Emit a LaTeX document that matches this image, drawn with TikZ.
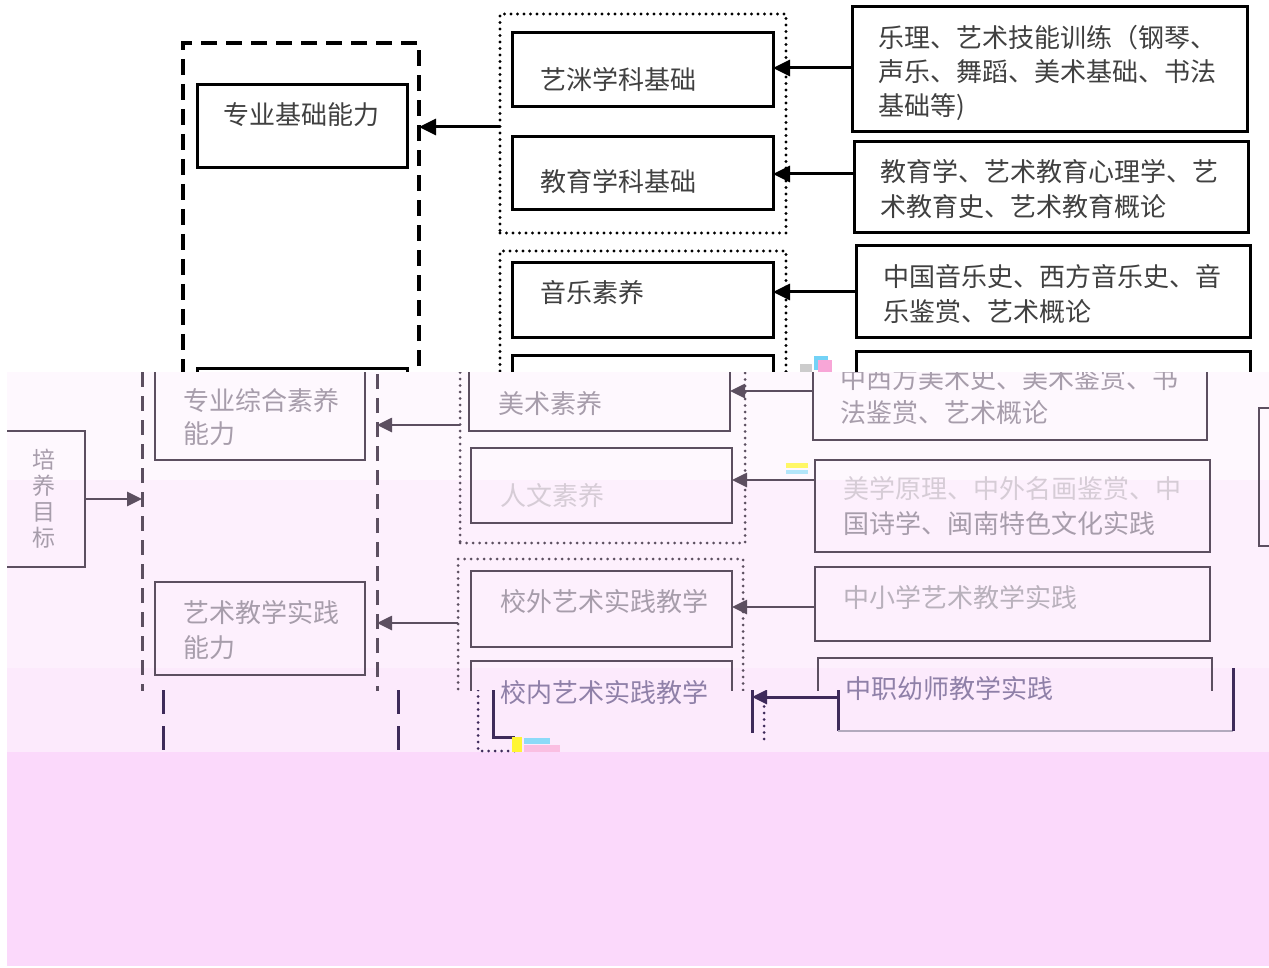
\documentclass[tikz,border=0pt]{standalone}
\usepackage{fontspec}
\newfontfamily\cjk{Noto Sans CJK SC}
\usetikzlibrary{arrows.meta,fit}
\definecolor{topink}{HTML}{404040}
\definecolor{midline}{HTML}{5C4F60}
\definecolor{midtext}{HTML}{A79DAB}
\definecolor{faint}{HTML}{D6CCD6}
\definecolor{deep}{HTML}{3E2A5A}
\definecolor{deeptext}{HTML}{8F80A8}
\definecolor{bandA}{HTML}{FEF8FE}
\definecolor{bandB}{HTML}{FDF0FD}
\definecolor{bandC}{HTML}{FCEAFC}
\definecolor{pinkbase}{HTML}{FBD9FB}
\tikzset{
  frame/.style={inner sep=0pt, outer sep=0pt},
  topbox/.style={frame, draw=black, line width=3pt},
  topdash/.style={frame, draw=black, line width=3.2pt, dash pattern=on 16pt off 9pt},
  topdot/.style={frame, draw=black, line width=3.4pt, dash pattern=on 0pt off 6.5pt, line cap=round},
  toparr/.style={draw=black, line width=3pt, -{Triangle[length=17pt,width=16pt]}},
  midbox/.style={frame, draw=midline, line width=2.6pt},
  middash/.style={draw=midline, line width=3pt, dash pattern=on 15pt off 9pt},
  middot/.style={frame, draw=midline, line width=3pt, dash pattern=on 0pt off 6.5pt, line cap=round},
  midarr/.style={draw=midline, line width=2.6pt, -{Triangle[length=15pt,width=14pt]}},
  deeparr/.style={draw=deep, line width=3pt, -{Triangle[length=15pt,width=14pt]}},
  tt/.style={anchor=base west, inner sep=0pt, font=\cjk\fontsize{26}{26}\selectfont},
  toptxt/.style={tt, text=topink},
  midtxt/.style={tt, text=midtext},
}
\begin{document}
\begin{tikzpicture}[x=1pt,y=-1pt]
\useasboundingbox (0,0) rectangle (1269,968);
\fill[white] (0,0) rectangle (1269,968);

% ---------------- top band ----------------
\begin{scope}
\clip (0,0) rectangle (1269,372);
\node[topdash, fit={(183,43) (419,430)}] (L1) {};
\node[topbox, fit={(197,85) (407,168)}] (zyjc) {};
\node[topbox, fit={(197,368) (407,460)}] (zyzh) {};
\node[topdot, fit={(500,14) (786,233)}] (G1) {};
\node[topbox, fit={(512,33) (773,107)}] (ys) {};
\node[topbox, fit={(512,137) (773,210)}] (jy) {};
\node[topdot, fit={(500,251) (786,430)}] (G2) {};
\node[topbox, fit={(512,263) (773,337)}] (yy) {};
\node[topbox, fit={(512,355) (773,430)}] (ms) {};
\node[topbox, fit={(852,7) (1247,132)}] (R1) {};
\node[topbox, fit={(854,142) (1248,233)}] (R2) {};
\node[topbox, fit={(856,246) (1250,337)}] (R3) {};
\node[topbox, fit={(856,351) (1250,440)}] (R4) {};

\draw[toparr] (G1.west |- 0,127) -- (L1.east |- 0,127);
\draw[toparr] (R1.west |- 0,68) -- (ys.east |- 0,68);
\draw[toparr] (R2.west |- 0,174) -- (jy.east |- 0,174);
\draw[toparr] (R3.west |- 0,292) -- (yy.east |- 0,292);

\node[toptxt] (t1) at (223,125) {专业基础能力};
\node[toptxt] (t2) at (540,90) {艺洣学科基础};
\node[toptxt] (t3) at (540,192) {教育学科基础};
\node[toptxt] (t4) at (540,303) {音乐素养};
\node[toptxt] (r1a) at (878,48) {乐理、艺术技能训练（钢琴、};
\node[toptxt] (r1b) at (878,82) {声乐、舞蹈、美术基础、书法};
\node[toptxt] (r1c) at (878,116) {基础等)};
\node[toptxt] (r2a) at (880,182) {教育学、艺术教育心理学、艺};
\node[toptxt] (r2b) at (880,217) {术教育史、艺术教育概论};
\node[toptxt] (r3a) at (883,287) {中国音乐史、西方音乐史、音};
\node[toptxt] (r3b) at (883,321) {乐鉴赏、艺术概论};
\end{scope}

% ---------------- middle band backgrounds ----------------
\fill[bandA] (7,372) rectangle (1269,480);
\fill[bandB] (7,480) rectangle (1269,668);
\fill[bandC] (7,668) rectangle (1269,752);
\fill[pinkbase] (7,752) rectangle (1269,966);

% ---------------- middle band, main fragment ----------------
\begin{scope}
\clip (7,372) rectangle (1269,690);
\node[midbox, fit={(-30,431) (85,567)}] (py) {};
\node[middash, frame, fit={(142,330) (377,730)}] (L2) {};
\node[midbox, fit={(155,330) (365,460)}] (s1) {};
\node[midbox, fit={(155,582) (365,675)}] (s2) {};
\node[middot, fit={(460,330) (745,543)}] (G3) {};
\node[midbox, fit={(469,330) (730,431)}] (msm) {};
\node[midbox, fit={(471,448) (732,523)}] (rw) {};
\node[middot, fit={(458,559) (743,730)}] (G4) {};
\node[midbox, fit={(471,571) (732,647)}] (xw) {};
\node[midbox, fit={(471,661) (732,730)}] (xn) {};
\node[midbox, fit={(813,330) (1207,440)}] (M1) {};
\node[midbox, fit={(815,460) (1210,552)}] (M2) {};
\node[midbox, fit={(815,567) (1210,641)}] (M3) {};
\node[midbox, fit={(818,658) (1212,730)}] (M4) {};
\node[midbox, fit={(1259,408) (1300,546)}] (RR) {};

\draw[midarr] (py.east |- 0,499) -- (L2.west |- 0,499);
\draw[midarr] (G3.west |- 0,425) -- (L2.east |- 0,425);
\draw[midarr] (G4.west |- 0,623) -- (L2.east |- 0,623);
\draw[midarr] (M1.west |- 0,391) -- (msm.east |- 0,391);
\draw[midarr] (M2.west |- 0,480) -- (rw.east |- 0,480);
\draw[midarr] (M3.west |- 0,607) -- (xw.east |- 0,607);

\node[midtxt] (s1a) at (183,410) {专业综合素养};
\node[midtxt] (s1b) at (183,443) {能力};
\node[midtxt] (s2a) at (183,622) {艺术教学实践};
\node[midtxt] (s2b) at (183,657) {能力};
\node[midtxt] (g3a) at (498,413) {美术素养};
\node[tt, text=faint] (g3b) at (500,505) {人文素养};
\node[midtxt] (g4a) at (500,611) {校外艺术实践教学};
\node[midtxt] (m1a) at (840,388) {中西方美术史、美术鉴赏、书};
\node[midtxt] (m1b) at (840,422) {法鉴赏、艺术概论};
\node[tt, text=faint] (m2a) at (843,498) {美学原理、中外名画鉴赏、中};
\node[midtxt] (m2b) at (843,533) {国诗学、闽南特色文化实践};
\node[tt, text=midtext!80] (m3) at (843,607) {中小学艺术教学实践};
\node[align=center, inner sep=0pt, text=midtext, font=\cjk\fontsize{23}{26}\selectfont] (pymb) at (44,499) {培\\养\\目\\标};
\end{scope}

% ---------------- middle band, lower fragment ----------------
\begin{scope}
\clip (7,690) rectangle (1269,752);
\coordinate (dl1) at (163,690);
\coordinate (dl2) at (163,752);
\coordinate (dr1) at (398,690);
\coordinate (dr2) at (398,752);
\draw[middash, draw=deep, dash pattern=on 24pt off 12pt] (dl1) -- (dl2);
\draw[middash, draw=deep, dash pattern=on 24pt off 12pt] (dr1) -- (dr2);
\coordinate (xa) at (493,680);
\coordinate (xb) at (493,737);
\coordinate (xc) at (515,737);
\draw[draw=deep, line width=3pt] (xa) -- (xb) -- (xc);
\coordinate (xd) at (752,686);
\coordinate (xe) at (752,733);
\draw[draw=deep, line width=3pt] (xd) -- (xe);
\coordinate (da) at (478,690);
\coordinate (db) at (478,751);
\coordinate (dc) at (515,751);
\draw[middot, draw=deep] (da) -- (db) -- (dc);
\coordinate (dd) at (764,700);
\coordinate (de) at (764,745);
\draw[middot, draw=deep] (dd) -- (de);
\coordinate (ma) at (838,690);
\coordinate (mb) at (838,731);
\coordinate (mc) at (1233,731);
\coordinate (md) at (1233,668);
\draw[draw=deep, line width=3pt] (ma) -- (mb);
\draw[draw=deep!40, line width=2.5pt] (mb) -- (mc);
\draw[draw=deep, line width=3pt] (mc) -- (md);
\draw[deeparr] (ma |- 0,697) -- (xd |- 0,697);
\end{scope}
\coordinate (mtop) at (1233,668);
\coordinate (mmid) at (1233,690);
\draw[draw=deep, line width=3pt] (mtop) -- (mmid);
\node[tt, text=deeptext] (g4b) at (500,702) {校内艺术实践教学};
\node[tt, text=deeptext] (m4) at (845,698) {中职幼师教学实践};

% ---------------- scan artifacts ----------------
\fill[cyan!55] (814,356) rectangle (828,370);
\fill[magenta!35] (818,360) rectangle (832,372);
\fill[gray!40] (800,364) rectangle (812,372);
\fill[yellow!60] (786,463) rectangle (808,468);
\fill[cyan!30] (786,470) rectangle (808,474);
\fill[yellow!80] (512,737) rectangle (522,752);
\fill[cyan!45] (524,738) rectangle (550,744);
\fill[magenta!25] (524,745) rectangle (560,752);
\end{tikzpicture}
\end{document}
